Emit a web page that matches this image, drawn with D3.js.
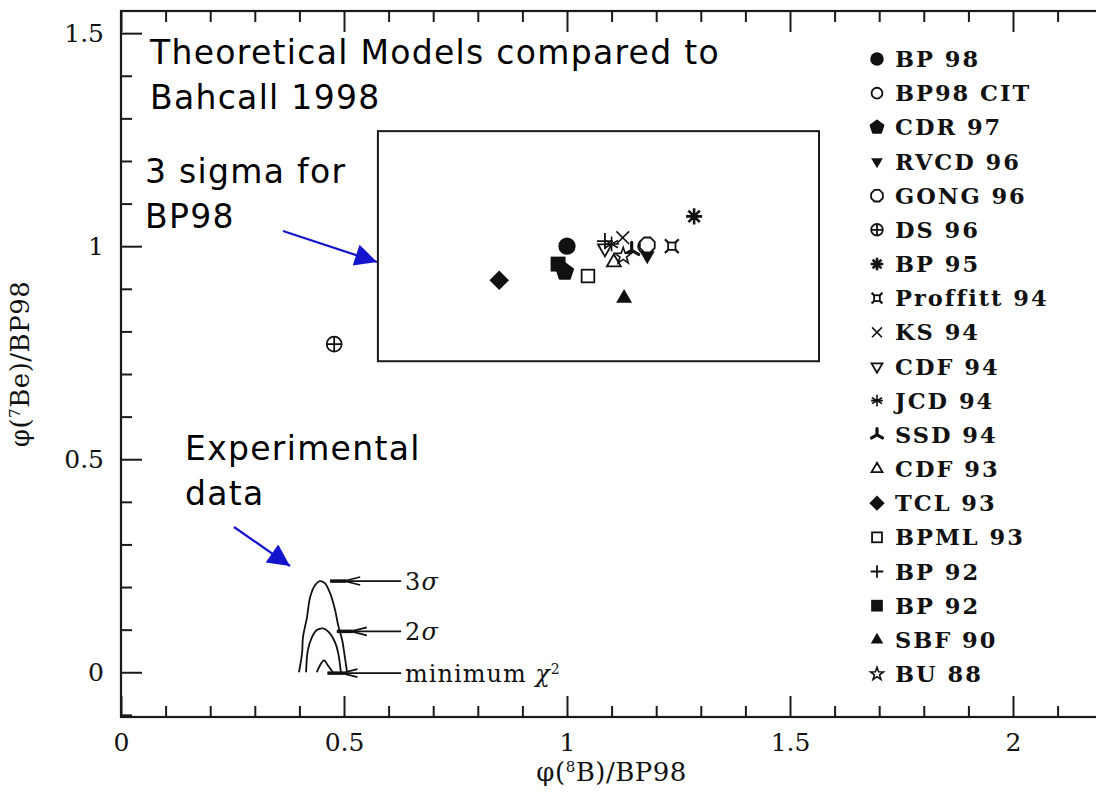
<!DOCTYPE html>
<html>
<head>
<meta charset="utf-8">
<script src="https://cdn.jsdelivr.net/npm/d3@7"></script>
<style>
  html, body { margin: 0; padding: 0; background: #fff; }
  svg { display: block; }
  .serif { font-family: "DejaVu Serif", serif; fill: #111; }
  .sans { font-family: "DejaVu Sans", sans-serif; fill: #000; }
</style>
</head>
<body>
<svg id="chart" width="1096" height="794"></svg>
<script>
// ---- solar neutrino model predictions, normalised to BP98 ----
const modelNames = ["BP 98", "BP98 CIT", "CDR 97", "RVCD 96", "GONG 96", "DS 96", "BP 95",
  "Proffitt 94", "KS 94", "CDF 94", "JCD 94", "SSD 94", "CDF 93", "TCL 93", "BPML 93",
  "BP 92", "BP 92", "SBF 90", "BU 88"];
const modelShapes = ["filledCircle", "openCircle", "filledPentagon", "filledTriDown", "openOctagon",
  "circlePlus", "starburst", "boxCross", "cross", "openTriDown", "asterisk", "tripod", "openTriUp",
  "filledDiamond", "openSquare", "plus", "filledSquare", "filledTriUp", "openStar"];
const boronFlux = [1.00, 1.175, 0.995, 1.18, 1.18, 0.478, 1.285, 1.235, 1.125, 1.085, 1.10,
  1.145, 1.105, 0.848, 1.047, 1.085, 0.98, 1.128, 1.126];
const berylliumFlux = [1.00, 1.00, 0.94, 0.978, 1.003, 0.77, 1.07, 1.00, 1.02, 0.995, 1.005,
  0.99, 0.962, 0.92, 0.93, 1.012, 0.958, 0.878, 0.977];

// 3 sigma box around BP98
const boxX = [0.576, 1.565];
const boxY = [0.73, 1.27];

// experimental allowed regions (chi-square contours)
const sigma3X = [0.399, 0.406, 0.408, 0.417, 0.424, 0.435, 0.446, 0.457, 0.469, 0.480, 0.487, 0.496, 0.502, 0.507];
const sigma3Y = [0.000, 0.045, 0.082, 0.129, 0.176, 0.204, 0.214, 0.209, 0.185, 0.146, 0.110, 0.075, 0.035, 0.000];
const sigma2X = [0.415, 0.419, 0.428, 0.439, 0.453, 0.466, 0.480, 0.487, 0.493];
const sigma2Y = [0.000, 0.052, 0.082, 0.099, 0.103, 0.094, 0.070, 0.045, 0.000];
const minX = [0.439, 0.446, 0.455, 0.464, 0.475];
const minY = [0.000, 0.016, 0.028, 0.016, 0.000];

// contour labels: level, arrow tip x, arrow y, label x
const contourLabels = ["3σ", "2σ", "minimum χ²"];
const contourTipX = [0.469, 0.484, 0.463];
const contourArrowY = [0.214, 0.096, -0.002];
const contourLabelX = 0.637;

// axis ticks
const xTickLabels = [0, 0.5, 1, 1.5, 2];
const yTickLabels = [0, 0.5, 1, 1.5];
const xMinorTicks = d3.range(0, 22).map(i => i / 10).filter(v => Math.abs(v * 2 - Math.round(v * 2)) > 1e-6);
const yMinorTicks = d3.range(-1, 16).map(i => i / 10).filter(v => Math.abs(v * 2 - Math.round(v * 2)) > 1e-6);

const svg = d3.select("#chart");
const x = d3.scaleLinear().domain([0, 2.2]).range([121, 1102.2]);
const y = d3.scaleLinear().domain([-0.105, 1.552]).range([717, 11]);
const X0 = x.range()[0], X1 = x.range()[1], Y0 = y.range()[0], Y1 = y.range()[1];

// ---- frame ----
const frame = svg.append("g").attr("stroke", "#1a1a1a").attr("stroke-width", 2.2).attr("fill", "none");
frame.append("rect").attr("x", X0).attr("y", Y1).attr("width", X1 - X0).attr("height", Y0 - Y1);

// inward ticks on bottom, top and left sides
function tickAxis(axis, vals, size, transform) {
  const g = svg.append("g").attr("transform", transform)
    .call(axis.tickValues(vals).tickSize(size).tickFormat(""));
  g.select(".domain").remove();
  g.selectAll("line").attr("stroke", "#1a1a1a").attr("stroke-width", 2);
}
tickAxis(d3.axisTop(x), xTickLabels, 21, `translate(0,${Y0})`);
tickAxis(d3.axisTop(x), xMinorTicks, 11, `translate(0,${Y0})`);
tickAxis(d3.axisBottom(x), xTickLabels, 21, `translate(0,${Y1})`);
tickAxis(d3.axisBottom(x), xMinorTicks, 11, `translate(0,${Y1})`);
tickAxis(d3.axisRight(y), yTickLabels, 21, `translate(${X0},0)`);
tickAxis(d3.axisRight(y), yMinorTicks, 11, `translate(${X0},0)`);

// tick labels
const fmt = d3.format("");
const xl = svg.append("g").attr("transform", `translate(0,${Y0})`)
  .call(d3.axisBottom(x).tickValues(xTickLabels).tickSize(0).tickPadding(16).tickFormat(fmt));
xl.select(".domain").remove();
xl.selectAll("text").attr("class", "serif").style("font-size", "25px").attr("fill", "#111");
const yl = svg.append("g").attr("transform", `translate(${X0},0)`)
  .call(d3.axisLeft(y).tickValues(yTickLabels).tickSize(0).tickPadding(17).tickFormat(fmt));
yl.select(".domain").remove();
yl.selectAll("text").attr("class", "serif").style("font-size", "25px").attr("fill", "#111");

// axis titles
const xt = svg.append("text").attr("class", "serif").attr("x", (X0 + X1) / 2).attr("y", 781)
  .attr("text-anchor", "middle").style("font-size", "26px").style("letter-spacing", "0.5px");
xt.append("tspan").text("φ(");
xt.append("tspan").attr("baseline-shift", "super").style("font-size", "15px").text("8");
xt.append("tspan").text("B)/BP98");

const yt = svg.append("text").attr("class", "serif")
  .attr("transform", `translate(29,${(Y0 + Y1) / 2}) rotate(-90)`)
  .attr("text-anchor", "middle").style("font-size", "26px").style("letter-spacing", "0.5px");
yt.append("tspan").text("φ(");
yt.append("tspan").attr("baseline-shift", "super").style("font-size", "15px").text("7");
yt.append("tspan").text("Be)/BP98");

// ---- 3 sigma box ----
svg.append("rect")
  .attr("x", x(boxX[0])).attr("y", y(boxY[1]))
  .attr("width", x(boxX[1]) - x(boxX[0])).attr("height", y(boxY[0]) - y(boxY[1]))
  .attr("fill", "none").attr("stroke", "#1a1a1a").attr("stroke-width", 2);

// ---- experimental contours ----
const line = d3.line().x(d => x(d[0])).y(d => y(d[1])).curve(d3.curveCatmullRom);
[[sigma3X, sigma3Y], [sigma2X, sigma2Y], [minX, minY]].forEach(([xs, ys]) => {
  svg.append("path").datum(xs.map((v, i) => [v, ys[i]]))
    .attr("d", line).attr("fill", "none").attr("stroke", "#111").attr("stroke-width", 1.8);
});

// contour labels with pointer arrows
contourLabels.forEach((lab, i) => {
  const ty = y(contourArrowY[i]);
  const tx = x(contourTipX[i]);
  const lx = x(contourLabelX);
  const g = svg.append("g").attr("stroke", "#111").attr("fill", "none");
  g.append("line").attr("x1", tx).attr("x2", lx - 4).attr("y1", ty).attr("y2", ty).attr("stroke-width", 1.6);
  g.append("line").attr("x1", tx).attr("x2", tx + 16).attr("y1", ty).attr("y2", ty).attr("stroke-width", 3.5);
  g.append("path").attr("d", `M${tx + 30},${ty - 4} L${tx + 14},${ty} L${tx + 30},${ty + 4}`).attr("stroke-width", 1.6);
  const t = svg.append("text").attr("class", "serif").attr("x", lx).attr("y", ty + 9)
    .style("font-size", "24px").style("letter-spacing", "1px");
  if (lab.includes("σ")) {
    t.append("tspan").text(lab[0]);
    t.append("tspan").style("font-style", "italic").text("σ");
  } else {
    t.append("tspan").text("minimum ");
    t.append("tspan").style("font-style", "italic").text("χ");
    t.append("tspan").attr("baseline-shift", "super").style("font-size", "14px").text("2");
  }
});

// ---- marker shapes ----
function regularPoly(n, r, rot) {
  return d3.range(n).map(i => {
    const a = rot + i * 2 * Math.PI / n;
    return [r * Math.cos(a), r * Math.sin(a)];
  });
}
function polyPath(pts) { return "M" + pts.map(p => p.join(",")).join("L") + "Z"; }

function drawMarker(g, shape, s) {
  const black = "#111";
  const sw = 1.8;
  switch (shape) {
    case "filledCircle":
      g.append("circle").attr("r", 7.5 * s).attr("fill", black); break;
    case "openCircle":
      g.append("circle").attr("r", 6 * s).attr("fill", "#fff").attr("stroke", black).attr("stroke-width", sw); break;
    case "filledPentagon":
      g.append("path").attr("d", polyPath(regularPoly(5, 7.5 * s, -Math.PI / 2))).attr("fill", black)
        .attr("stroke", black).attr("stroke-width", 2).attr("stroke-linejoin", "round"); break;
    case "filledTriDown":
      g.append("path").attr("d", polyPath(regularPoly(3, 7.5 * s, Math.PI / 2))).attr("fill", black); break;
    case "openOctagon":
      g.append("path").attr("d", polyPath(regularPoly(8, 7 * s, Math.PI / 8))).attr("fill", "#fff")
        .attr("stroke", black).attr("stroke-width", sw); break;
    case "circlePlus":
      g.append("circle").attr("r", 6.5 * s).attr("fill", "#fff").attr("stroke", black).attr("stroke-width", sw);
      g.append("path").attr("d", `M${-6.5 * s},0H${6.5 * s}M0,${-6.5 * s}V${6.5 * s}`).attr("stroke", black).attr("stroke-width", sw); break;
    case "starburst": {
      const d = d3.range(8).map(i => { const a = i * Math.PI / 4; return `M0,0L${7 * s * Math.cos(a)},${7 * s * Math.sin(a)}`; }).join("");
      g.append("path").attr("d", d).attr("stroke", black).attr("stroke-width", 2.6);
      g.append("circle").attr("r", 2.5 * s).attr("fill", black); break;
    }
    case "boxCross": {
      const h = 3.2 * s, o = 6 * s;
      g.append("rect").attr("x", -h).attr("y", -h).attr("width", 2 * h).attr("height", 2 * h)
        .attr("fill", "#fff").attr("stroke", black).attr("stroke-width", sw);
      g.append("path").attr("d", `M${-o},${-o}L${-h},${-h}M${o},${-o}L${h},${-h}M${-o},${o}L${-h},${h}M${o},${o}L${h},${h}`)
        .attr("stroke", black).attr("stroke-width", 2.2); break;
    }
    case "cross": {
      const r = 5.5 * s;
      g.append("path").attr("d", `M${-r},${-r}L${r},${r}M${r},${-r}L${-r},${r}`).attr("stroke", black).attr("stroke-width", 1.6); break;
    }
    case "openTriDown":
      g.append("path").attr("d", polyPath(regularPoly(3, 7 * s, Math.PI / 2))).attr("fill", "#fff")
        .attr("stroke", black).attr("stroke-width", sw); break;
    case "asterisk": {
      const d = [90, 30, 150, 0].map(deg => { const a = deg * Math.PI / 180, r = 6.5 * s;
        return `M${-r * Math.cos(a)},${-r * Math.sin(a)}L${r * Math.cos(a)},${r * Math.sin(a)}`; }).join("");
      g.append("path").attr("d", d).attr("stroke", black).attr("stroke-width", 1.6); break;
    }
    case "tripod": {
      const r = 7 * s;
      const d = [-90, 30, 150].map(deg => { const a = deg * Math.PI / 180; return `M0,0L${r * Math.cos(a)},${r * Math.sin(a)}`; }).join("");
      g.append("path").attr("d", d).attr("stroke", black).attr("stroke-width", 3.2).attr("stroke-linecap", "round"); break;
    }
    case "openTriUp":
      g.append("path").attr("d", polyPath(regularPoly(3, 7 * s, -Math.PI / 2))).attr("fill", "#fff")
        .attr("stroke", black).attr("stroke-width", sw); break;
    case "filledDiamond":
      g.append("path").attr("d", polyPath(regularPoly(4, 8.5 * s, 0))).attr("fill", black); break;
    case "openSquare": {
      const h = 5.5 * s;
      g.append("rect").attr("x", -h).attr("y", -h).attr("width", 2 * h).attr("height", 2 * h)
        .attr("fill", "#fff").attr("stroke", black).attr("stroke-width", sw); break;
    }
    case "plus": {
      const r = 7 * s;
      g.append("path").attr("d", `M${-r},0H${r}M0,${-r}V${r}`).attr("stroke", black).attr("stroke-width", 1.8); break;
    }
    case "filledSquare": {
      const h = 6.5 * s;
      g.append("rect").attr("x", -h).attr("y", -h).attr("width", 2 * h).attr("height", 2 * h).attr("fill", black); break;
    }
    case "filledTriUp":
      g.append("path").attr("d", polyPath(regularPoly(3, 8 * s, -Math.PI / 2))).attr("fill", black); break;
    case "openStar": {
      const pts = d3.range(10).map(i => { const r = (i % 2 ? 3 : 7.5) * s, a = -Math.PI / 2 + i * Math.PI / 5; return [r * Math.cos(a), r * Math.sin(a)]; });
      g.append("path").attr("d", polyPath(pts)).attr("fill", "#fff").attr("stroke", black).attr("stroke-width", 1.6); break;
    }
  }
}

// ---- model points ----
const pts = svg.append("g");
modelNames.forEach((name, i) => {
  const g = pts.append("g").attr("transform", `translate(${x(boronFlux[i])},${y(berylliumFlux[i])})`);
  drawMarker(g, modelShapes[i], 1.15);
});

// ---- legend ----
const legendY = d3.scaleLinear().domain([0, modelNames.length - 1]).range([59, 674]);
const legend = svg.append("g");
modelNames.forEach((name, i) => {
  const g = legend.append("g").attr("transform", `translate(877,${legendY(i)})`);
  drawMarker(g, modelShapes[i], 0.9);
  g.append("text").attr("class", "serif").attr("x", 18).attr("y", 8)
    .style("font-size", "22.5px").style("font-weight", "bold").style("letter-spacing", "2px").text(name);
});

// ---- annotations ----
const notes = [
  { lines: ["Theoretical Models compared to", "Bahcall 1998"], x: 150, y: 64 },
  { lines: ["3 sigma for", "BP98"], x: 145, y: 183 },
  { lines: ["Experimental", "data"], x: 185, y: 460 }
];
notes.forEach(n => {
  n.lines.forEach((l, j) => {
    svg.append("text").attr("class", "sans").attr("x", n.x).attr("y", n.y + j * 45)
      .style("font-size", "33px").style("letter-spacing", "1.3px").text(l);
  });
});

const blue = "#1414cc";
svg.append("defs").append("marker").attr("id", "bluehead")
  .attr("viewBox", "0 0 10 10").attr("refX", 10).attr("refY", 5)
  .attr("markerWidth", 28).attr("markerHeight", 22).attr("markerUnits", "userSpaceOnUse")
  .attr("orient", "auto")
  .append("path").attr("d", "M0,0L10,5L0,10Z").attr("fill", blue);
[[283, 231, 377, 262], [234, 527, 290, 566]].forEach(a => {
  svg.append("line").attr("x1", a[0]).attr("y1", a[1]).attr("x2", a[2]).attr("y2", a[3])
    .attr("stroke", blue).attr("stroke-width", 2.2).attr("marker-end", "url(#bluehead)");
});
</script>
</body>
</html>
